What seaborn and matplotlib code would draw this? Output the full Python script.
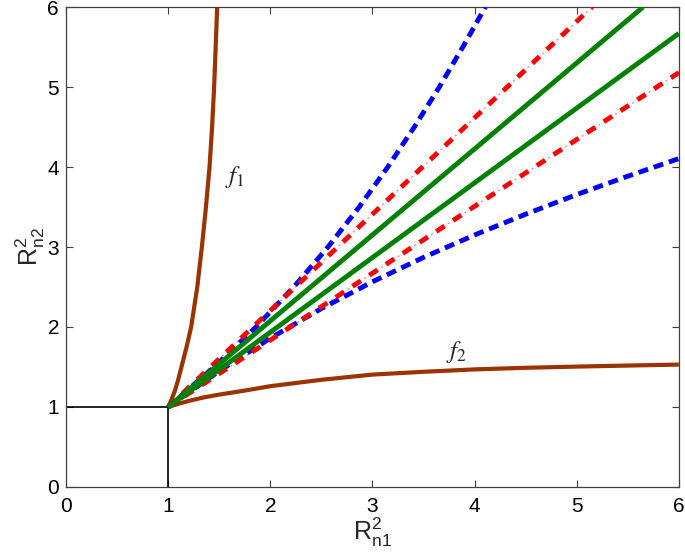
import matplotlib
matplotlib.use("Agg")
import matplotlib.pyplot as plt
import seaborn as sns

# ---- data ----
f2_x = [1.0, 1.1, 1.2, 1.35, 1.5, 1.75, 2.0, 2.5, 3.0, 3.5, 4.0, 4.5, 5.0, 5.5, 6.0]
f2_y = [1.0, 1.04, 1.075, 1.12, 1.155, 1.205, 1.26, 1.34, 1.405, 1.44, 1.47, 1.49, 1.505, 1.518, 1.53]

f1_x = [1.0, 1.035, 1.065, 1.10, 1.13, 1.18, 1.225, 1.285, 1.33, 1.37, 1.405, 1.43, 1.45, 1.465, 1.48]
f1_y = [1.0, 1.1, 1.2, 1.35, 1.5, 1.75, 2.0, 2.5, 3.0, 3.5, 4.0, 4.5, 5.0, 5.5, 6.0]

blue_lo_x = [1.0, 1.5, 2.0, 2.5, 3.0, 3.5, 4.0, 4.5, 5.0, 5.5, 6.0]
blue_lo_y = [1.0, 1.45, 1.86, 2.23, 2.565, 2.87, 3.15, 3.41, 3.655, 3.885, 4.105]
blue_hi_x = [1.0, 1.45, 1.86, 2.23, 2.565, 2.87, 3.15, 3.41, 3.655, 3.885, 4.105]
blue_hi_y = [1.0, 1.5, 2.0, 2.5, 3.0, 3.5, 4.0, 4.5, 5.0, 5.5, 6.0]

red_lo_x = [1.0, 6.0]
red_lo_y = [1.0, 5.18]
red_hi_x = [1.0, 5.15]
red_hi_y = [1.0, 6.0]

green_lo_x = [1.0, 6.0]
green_lo_y = [1.0, 5.67]
green_hi_x = [1.0, 5.65]
green_hi_y = [1.0, 6.0]

box_h_x = [0.0, 1.0]
box_h_y = [1.0, 1.0]
box_v_x = [1.0, 1.0]
box_v_y = [0.0, 1.0]

ticks = [0, 1, 2, 3, 4, 5, 6]

# ---- styling ----
sns.set_style("ticks")
plt.rcParams["font.family"] = ["Liberation Sans", "DejaVu Sans"]
plt.rcParams["mathtext.fontset"] = "custom"
plt.rcParams["mathtext.rm"] = "Liberation Sans"
plt.rcParams["mathtext.it"] = "Liberation Sans:italic"

fig = plt.figure(figsize=(6.85, 5.57), dpi=100)
ax = fig.add_axes([0.0964, 0.1257, 0.8946, 0.8617])

brown = "#993300"
LW = 3.5

def draw(x, y, color, lw, ls=None, z=2, alpha=1.0):
    sns.lineplot(x=x, y=y, ax=ax, color=color, lw=lw, sort=False,
                 estimator=None, zorder=z, legend=False, alpha=alpha)
    line = ax.lines[-1]
    if ls is not None:
        line.set_linestyle(ls)
    line.set_solid_capstyle("butt")
    line.set_dash_capstyle("butt")
    return line

draw(box_h_x, box_h_y, "black", 1.2, z=1)
draw(box_v_x, box_v_y, "black", 1.2, z=1)
draw(f1_x, f1_y, brown, 3.0, z=2)
draw(f2_x, f2_y, brown, 3.0, z=2)
draw(blue_lo_x, blue_lo_y, "#0000ff", LW, (0, (2.06, 1.23)), z=3)
draw(blue_hi_x, blue_hi_y, "#0000ff", LW, (0, (2.06, 1.23)), z=3)
for rx, ry in [(red_lo_x, red_lo_y), (red_hi_x, red_hi_y)]:
    draw(rx, ry, "#ff0000", LW, (0, (2.06, 2.06)), z=4)
    draw(rx, ry, "#ff0000", 0.9, (4.1 / 0.9, (1.6, 14.4 / 0.9 - 1.6)), z=4, alpha=0.5)
draw(green_lo_x, green_lo_y, "#008000", LW, z=5)
draw(green_hi_x, green_hi_y, "#008000", LW, z=5)

ax.set_xlim(0, 6)
ax.set_ylim(0, 6)
ax.set_xticks(ticks)
ax.set_yticks(ticks)
ax.set_xticklabels([str(t) for t in ticks])
ax.set_yticklabels([str(t) for t in ticks])
ax.tick_params(direction="in", length=5, width=0.8, colors="#404040",
               labelcolor="black", labelsize=15, top=True, right=True)
ax.tick_params(axis="x", pad=7)
ax.tick_params(axis="y", pad=5)
for s in ax.spines.values():
    s.set_visible(True)
    s.set_color("#404040")
    s.set_linewidth(0.9)

ax.set_xlabel(r"$\mathrm{R}^2_{\mathrm{n1}}$", fontsize=18, labelpad=0)
ax.set_ylabel(r"$\mathrm{R}^2_{\mathrm{n2}}$", fontsize=18, labelpad=0)

ax.text(1.56, 3.87, r"$f_1$", fontsize=18, math_fontfamily="stix",
        ha="left", va="center")
ax.text(3.72, 1.69, r"$f_2$", fontsize=18, math_fontfamily="stix",
        ha="left", va="center")

fig.savefig("out.png", dpi=100)
